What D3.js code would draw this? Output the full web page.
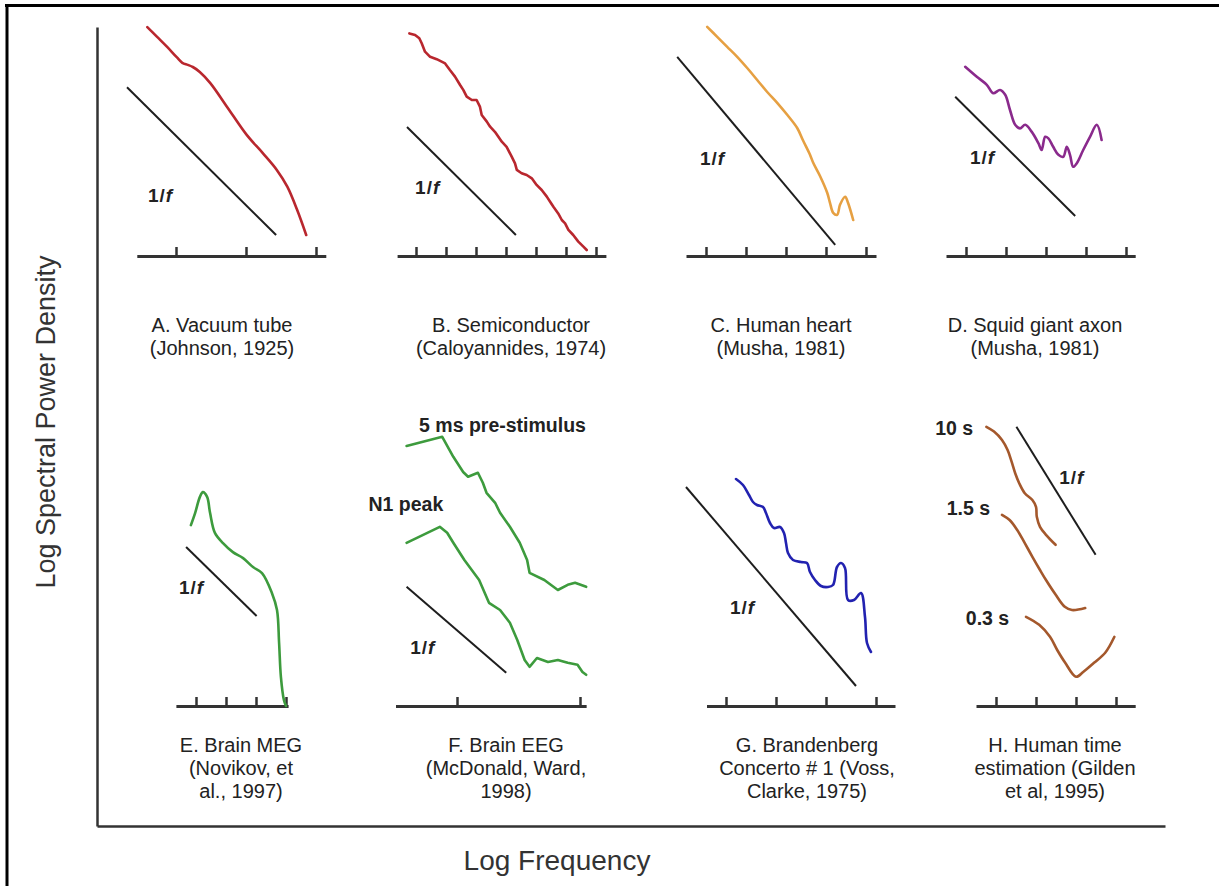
<!DOCTYPE html>
<html><head><meta charset="utf-8">
<script src="https://cdn.jsdelivr.net/npm/d3@7"></script>
<style>html,body{margin:0;padding:0;background:#fff;overflow:hidden}</style>
</head><body>
<svg id="chart" width="1219" height="886"></svg>
<script>
// ---------- DATA (log frequency in tick units, log power in same units above each panel's axis) ----------
const panelIds = ["A","B","C","D","E","F","G","H"];
const captions = [
  ["A. Vacuum tube","(Johnson, 1925)"],
  ["B. Semiconductor","(Caloyannides, 1974)"],
  ["C. Human heart","(Musha, 1981)"],
  ["D. Squid giant axon","(Musha, 1981)"],
  ["E. Brain MEG","(Novikov, et","al., 1997)"],
  ["F. Brain EEG","(McDonald, Ward,","1998)"],
  ["G. Brandenberg","Concerto # 1 (Voss,","Clarke, 1975)"],
  ["H. Human time","estimation (Gilden","et al, 1995)"]
];
const axisDomains = [[0.44,3.14],[0.37,7.33],[0.5,5.25],[0.5,5.23],[0.33,4.07],[0.5,2.05],[0.61,4.38],[0.5,4.48]];
const tickValues = [[1,2,3],[1,2,3,4,5,6,7],[1,2,3,4,5],[1,2,3,4,5],[1,2,3,4],[1,2],[1,2,3,4],[1,2,3,4]];

const curveA = [[0.59,3.27],[0.73,3.13],[0.87,2.99],[1.01,2.84],[1.09,2.76],[1.17,2.73],[1.24,2.7],[1.34,2.63],[1.49,2.47],[1.73,2.13],[2.01,1.73],[2.24,1.47],[2.44,1.23],[2.59,0.99],[2.73,0.66],[2.86,0.3]];
const curveB = [[0.78,7.42],[0.97,7.37],[1.11,7.26],[1.19,7.09],[1.3,6.81],[1.47,6.64],[1.69,6.56],[1.97,6.42],[2.13,6.2],[2.3,5.98],[2.47,5.7],[2.58,5.53],[2.69,5.31],[2.86,5.2],[3.02,5.2],[3.13,4.98],[3.19,4.7],[3.36,4.48],[3.47,4.31],[3.63,4.14],[3.74,3.98],[3.86,3.81],[4.02,3.64],[4.19,3.31],[4.3,3.09],[4.36,2.87],[4.52,2.76],[4.69,2.7],[4.86,2.59],[5.02,2.37],[5.19,2.2],[5.36,1.98],[5.47,1.81],[5.58,1.64],[5.74,1.42],[5.86,1.2],[5.97,1.09],[6.08,0.87],[6.24,0.7],[6.41,0.48],[6.58,0.31],[6.69,0.2]];
const curveC = [[1.03,5.73],[1.28,5.48],[1.53,5.23],[1.78,4.98],[2.03,4.7],[2.28,4.4],[2.53,4.1],[2.78,3.83],[3.03,3.53],[3.28,3.2],[3.43,2.88],[3.6,2.53],[3.68,2.33],[3.85,2.0],[4.03,1.58],[4.1,1.33],[4.18,1.08],[4.28,1.03],[4.35,1.28],[4.48,1.48],[4.55,1.33],[4.68,0.9]];
const curveD = [[0.98,4.73],[1.27,4.48],[1.52,4.28],[1.68,4.07],[1.85,4.15],[1.98,4.03],[2.1,3.65],[2.23,3.28],[2.35,3.19],[2.48,3.28],[2.64,3.11],[2.81,2.82],[2.89,2.65],[2.98,2.98],[3.06,2.94],[3.18,2.73],[3.31,2.53],[3.43,2.48],[3.52,2.73],[3.6,2.53],[3.68,2.23],[3.77,2.32],[3.93,2.65],[4.1,2.98],[4.27,3.28],[4.39,2.9]];
const curveE = [[0.83,6.03],[0.97,6.43],[1.13,6.97],[1.23,7.13],[1.37,6.97],[1.47,6.43],[1.63,5.77],[1.9,5.43],[2.23,5.13],[2.57,4.93],[2.9,4.63],[3.2,4.43],[3.53,3.77],[3.7,3.2],[3.77,2.1],[3.83,0.97],[3.93,0.2],[4.0,0.0]];
const curveFpre = [[0.59,6.5],[0.88,6.73],[0.97,6.23],[1.05,5.85],[1.09,5.73],[1.17,5.83],[1.21,5.58],[1.24,5.33],[1.31,5.08],[1.35,4.83],[1.43,4.48],[1.51,4.08],[1.57,3.65],[1.59,3.33],[1.71,3.15],[1.82,2.9],[1.9,3.03],[1.96,3.08],[2.05,2.98]];
const curveFn1 = [[0.59,4.08],[0.86,4.48],[0.92,4.33],[0.97,4.08],[1.06,3.65],[1.18,3.15],[1.26,2.58],[1.35,2.4],[1.43,2.08],[1.49,1.65],[1.55,1.15],[1.59,0.98],[1.65,1.2],[1.74,1.1],[1.82,1.15],[1.9,1.08],[1.98,1.03],[2.02,0.85],[2.05,0.78]];
const curveG = [[1.2,4.54],[1.34,4.42],[1.46,4.22],[1.54,4.08],[1.62,4.02],[1.74,3.98],[1.8,3.86],[1.88,3.66],[1.96,3.56],[2.08,3.58],[2.16,3.46],[2.2,3.26],[2.24,3.06],[2.34,2.92],[2.5,2.88],[2.62,2.86],[2.68,2.68],[2.78,2.52],[2.9,2.4],[3.04,2.38],[3.14,2.42],[3.22,2.78],[3.3,2.86],[3.38,2.76],[3.44,2.12],[3.56,2.12],[3.7,2.26],[3.78,1.78],[3.82,1.26],[3.9,1.08]];
const curveH10 = [[0.76,6.98],[0.95,6.86],[1.15,6.65],[1.29,6.4],[1.39,6.11],[1.48,5.82],[1.58,5.57],[1.72,5.32],[1.91,5.15],[2.0,4.98],[2.02,4.73],[2.1,4.48],[2.25,4.28],[2.49,4.03]];
const curveH15 = [[1.15,4.78],[1.34,4.65],[1.53,4.4],[1.72,4.07],[1.91,3.73],[2.1,3.4],[2.25,3.15],[2.48,2.8],[2.72,2.48],[2.9,2.4],[3.23,2.45]];
const curveH03 = [[1.75,2.23],[2.08,2.03],[2.35,1.73],[2.53,1.4],[2.73,1.08],[3.0,0.73],[3.18,0.85],[3.45,1.08],[3.73,1.33],[3.96,1.73]];

const oneOverF = [
  [[0.3,2.41],[2.43,0.3]],
  [[0.7,4.3],[4.33,0.7]],
  [[0.28,4.98],[4.23,0.28]],
  [[0.73,3.98],[3.73,1.0]],
  [[0.67,5.3],[3.02,3.0]],
  [[0.59,2.98],[1.4,0.83]],
  [[0.2,4.38],[3.6,0.4]],
  [[1.51,6.98],[3.49,3.78]]
];
const oneOverFLabel = [[0.6,0.87],[0.97,2.3],[0.85,2.45],[1.1,2.48],[0.43,3.97],[0.62,1.48],[1.08,1.98],[2.58,5.73]];

const seriesCurves = [
  {panel:"A", pts:curveA},{panel:"B", pts:curveB},{panel:"C", pts:curveC},{panel:"D", pts:curveD},
  {panel:"E", pts:curveE},{panel:"F", pts:curveFpre},{panel:"F", pts:curveFn1},{panel:"G", pts:curveG},
  {panel:"H", pts:curveH10},{panel:"H", pts:curveH15},{panel:"H", pts:curveH03}
];
const annotations = [
  {panel:"F", text:"5 ms pre-stimulus", at:[1.37,7.03], anchor:"middle"},
  {panel:"F", text:"N1 peak", at:[0.28,5.05], anchor:"start"},
  {panel:"H", text:"10 s", at:[0.43,6.95], anchor:"end"},
  {panel:"H", text:"1.5 s", at:[0.85,4.96], anchor:"end"},
  {panel:"H", text:"0.3 s", at:[1.33,2.2], anchor:"end"}
];
const yAxisTitle = "Log Spectral Power Density";
const xAxisTitle = "Log Frequency";

// ---------- LAYOUT / STYLE ----------
const geom = {
  A:{ox:106,kx:70,ky:70,base:256,cap:222},
  B:{ox:386,kx:30,ky:30,base:256,cap:511},
  C:{ox:666,kx:40,ky:40,base:256,cap:781},
  D:{ox:926,kx:40,ky:40,base:256,cap:1035},
  E:{ox:166,kx:30,ky:30,base:706,cap:241},
  F:{ox:334,kx:123,ky:40,base:706,cap:506},
  G:{ox:676,kx:50,ky:50,base:706,cap:807},
  H:{ox:956,kx:40,ky:40,base:706,cap:1055}
};
const colors = {A:"#b9272e",B:"#b9272e",C:"#e6a042",D:"#8a2a8c",E:"#3d9b3d",F:"#3d9b3d",G:"#2222b0",H:"#a4582c"};
const curveType = {A:d3.curveCatmullRom,B:d3.curveLinear,C:d3.curveCatmullRom,D:d3.curveCatmullRom,E:d3.curveCatmullRom,F:d3.curveLinear,G:d3.curveCatmullRom,H:d3.curveCatmullRom};
const FONT = "'Liberation Sans', Arial, Helvetica, sans-serif";

const svg = d3.select("#chart");
svg.append("rect").attr("width",1219).attr("height",886).attr("fill","#fff");

// frame
svg.append("line").attr("x1",5).attr("x2",1219).attr("y1",5.5).attr("y2",5.5).attr("stroke","#000").attr("stroke-width",3);
svg.append("line").attr("x1",7).attr("x2",7).attr("y1",4).attr("y2",886).attr("stroke","#000").attr("stroke-width",3);

// main axes
const mainX = d3.scaleLinear().domain([0,1]).range([97,1165]);
const mainY = d3.scaleLinear().domain([0,1]).range([826,27]);
const gx = svg.append("g").attr("transform","translate(0,826)").call(d3.axisBottom(mainX).tickValues([]).tickSizeOuter(0));
const gy = svg.append("g").attr("transform","translate(97,0)").call(d3.axisRight(mainY).tickValues([]).tickSizeOuter(0));
[gx,gy].forEach(g=>g.select(".domain").attr("stroke","#333").attr("stroke-width",2.5));
svg.append("text").attr("transform","translate(46,422) rotate(-90)").attr("text-anchor","middle")
  .attr("dominant-baseline","central").attr("font-family",FONT).attr("font-size",27).attr("fill","#333").text(yAxisTitle);
svg.append("text").attr("x",557).attr("y",860).attr("text-anchor","middle").attr("dominant-baseline","central")
  .attr("font-family",FONT).attr("font-size",28).attr("fill","#333").text(xAxisTitle);

// panels
const scales = {};
panelIds.forEach((id,i)=>{
  const g = geom[id];
  const dom = axisDomains[i];
  const x = d3.scaleLinear().domain(dom).range(dom.map(v=>g.ox+g.kx*v));
  const y = d3.scaleLinear().domain([0,1]).range([g.base,g.base-g.ky]);
  scales[id] = {x,y};
  const ax = svg.append("g").attr("transform",`translate(0,${g.base})`)
    .call(d3.axisTop(x).tickValues(tickValues[i]).tickSize(9).tickSizeOuter(0).tickFormat(""));
  ax.select(".domain").attr("stroke","#333").attr("stroke-width",3);
  ax.selectAll(".tick line").attr("stroke","#333").attr("stroke-width",2.5);

  // 1/f reference line
  svg.append("path").datum(oneOverF[i])
    .attr("d",d3.line().x(d=>x(d[0])).y(d=>y(d[1])))
    .attr("fill","none").attr("stroke","#1e1e1e").attr("stroke-width",2);
  const lab = svg.append("text").attr("x",x(oneOverFLabel[i][0])).attr("y",y(oneOverFLabel[i][1]))
    .attr("dominant-baseline","central").attr("font-family",FONT).attr("font-weight","bold")
    .attr("font-size",19).attr("letter-spacing",1).attr("fill","#222");
  lab.append("tspan").text("1/");
  lab.append("tspan").attr("font-style","italic").text("f");

  // caption
  const capTop = g.base === 256 ? 325 : 745;
  captions[i].forEach((line,j)=>{
    svg.append("text").attr("x",g.cap).attr("y",capTop+23*j).attr("text-anchor","middle")
      .attr("dominant-baseline","central").attr("font-family",FONT).attr("font-size",20)
      .attr("fill","#222").text(line);
  });
});

// spectra
seriesCurves.forEach(s=>{
  const {x,y} = scales[s.panel];
  svg.append("path").datum(s.pts)
    .attr("d",d3.line().curve(curveType[s.panel]).x(d=>x(d[0])).y(d=>y(d[1])))
    .attr("fill","none").attr("stroke",colors[s.panel]).attr("stroke-width",2.6)
    .attr("stroke-linejoin","round").attr("stroke-linecap","round");
});

// annotations
annotations.forEach(a=>{
  const {x,y} = scales[a.panel];
  svg.append("text").attr("x",x(a.at[0])).attr("y",y(a.at[1])).attr("text-anchor",a.anchor)
    .attr("dominant-baseline","central").attr("font-family",FONT).attr("font-weight","bold")
    .attr("font-size",19.5).attr("fill","#222").text(a.text);
});
</script>
</body></html>
